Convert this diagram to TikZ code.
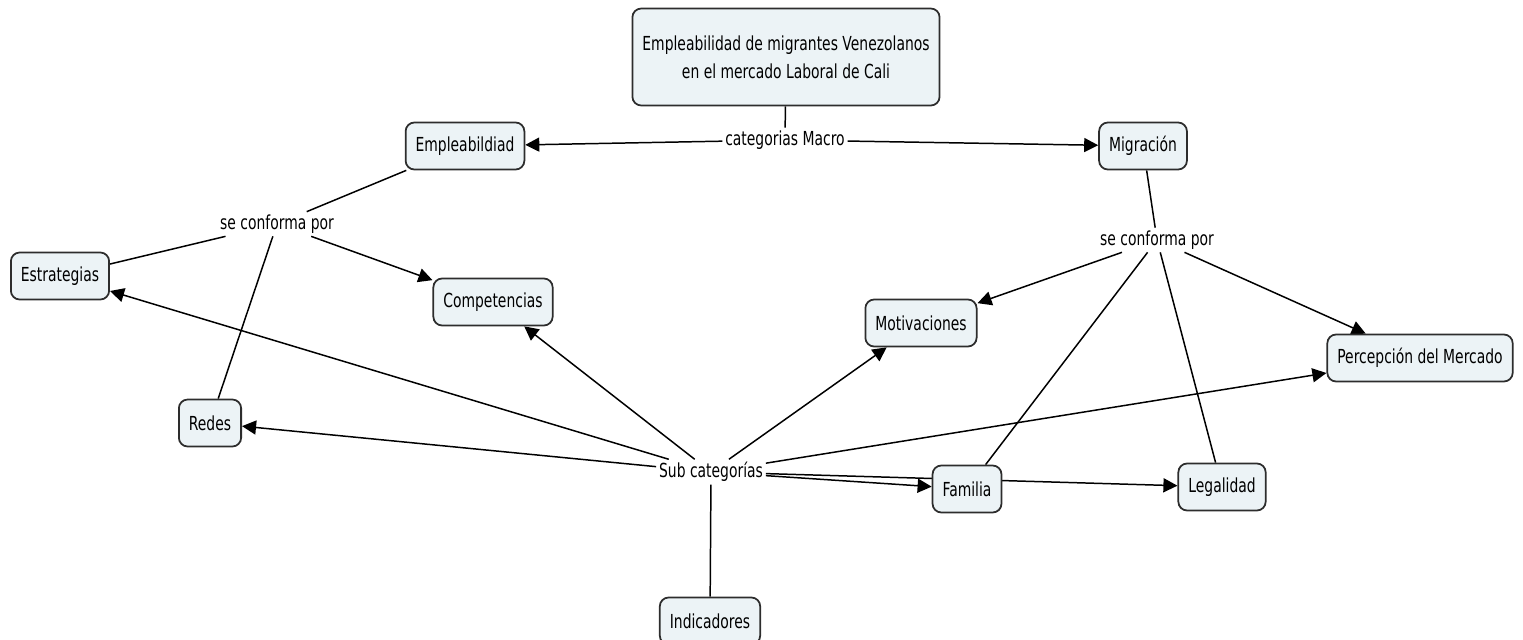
\documentclass[tikz,border=0pt]{standalone}
\usepackage{fontspec}
\setmainfont[FakeStretch=0.72]{DejaVu Sans}
\usetikzlibrary{arrows.meta,backgrounds}

\definecolor{conceptfill}{RGB}{236,243,246}
\definecolor{conceptline}{RGB}{45,45,45}

\tikzset{
  concept/.style={draw=conceptline, fill=conceptfill, rounded corners=5pt,
    line width=1pt, minimum height=0.94cm, inner xsep=0.2cm, align=center,
    font=\fontsize{11}{16}\selectfont},
  linkword/.style={inner sep=1.5pt, font=\fontsize{11}{16}\selectfont},
  link/.style={line width=0.85pt, black},
  linkto/.style={link, -{Triangle[length=8pt,width=8pt]}},
}

\begin{document}
\begin{tikzpicture}[x=0.02cm, y=-0.02cm]
  \useasboundingbox (0,0) rectangle (1523,639);

  % Concepts
  \node[concept, minimum height=1.94cm] (tema) at (786,57)
    {Empleabilidad de migrantes Venezolanos\\en el mercado Laboral de Cali};
  \node[concept] (empleab) at (465,146) {Empleabildiad};
  \node[concept] (migra) at (1143,146) {Migración};
  \node[concept] (estrat) at (60,276) {Estrategias};
  \node[concept] (compet) at (493,302) {Competencias};
  \node[concept] (redes) at (210,423) {Redes};
  \node[concept] (motiv) at (921,323) {Motivaciones};
  \node[concept] (percep) at (1420,358) {Percepción del Mercado};
  \node[concept] (familia) at (967,489) {Familia};
  \node[concept] (legal) at (1222,487) {Legalidad};
  \node[concept] (indic) at (710,621) {Indicadores};

  % Linking words
  \node[linkword] (macro) at (785,140) {categorias Macro};
  \node[linkword] (confizq) at (277,224) {se conforma por};
  \node[linkword] (confder) at (1157,240) {se conforma por};
  \node[linkword] (subcat) at (711,472) {Sub categorías};

  % Connectors (behind the concepts)
  \begin{scope}[on background layer]
    \draw[link] (tema) -- (macro);
    \draw[linkto] (macro) -- (empleab);
    \draw[linkto] (macro) -- (migra);

    \draw[link] (empleab) -- (confizq);
    \draw[link] (confizq) -- (estrat);
    \draw[link] (confizq) -- (redes);
    \draw[linkto] (confizq) -- (compet);

    \draw[link] (migra) -- (confder);
    \draw[linkto] (confder) -- (motiv);
    \draw[linkto] (confder) -- (percep);
    \draw[link] (confder) -- (familia);
    \draw[link] (confder) -- (legal);

    \draw[linkto] (subcat) -- (estrat);
    \draw[linkto] (subcat) -- (compet);
    \draw[linkto] (subcat) -- (redes);
    \draw[linkto] (subcat) -- (motiv);
    \draw[linkto] (subcat) -- (percep);
    \draw[linkto] (subcat) -- (familia);
    \draw[linkto] (subcat) -- (legal);
    \draw[link] (subcat) -- (indic);
  \end{scope}
\end{tikzpicture}
\end{document}
